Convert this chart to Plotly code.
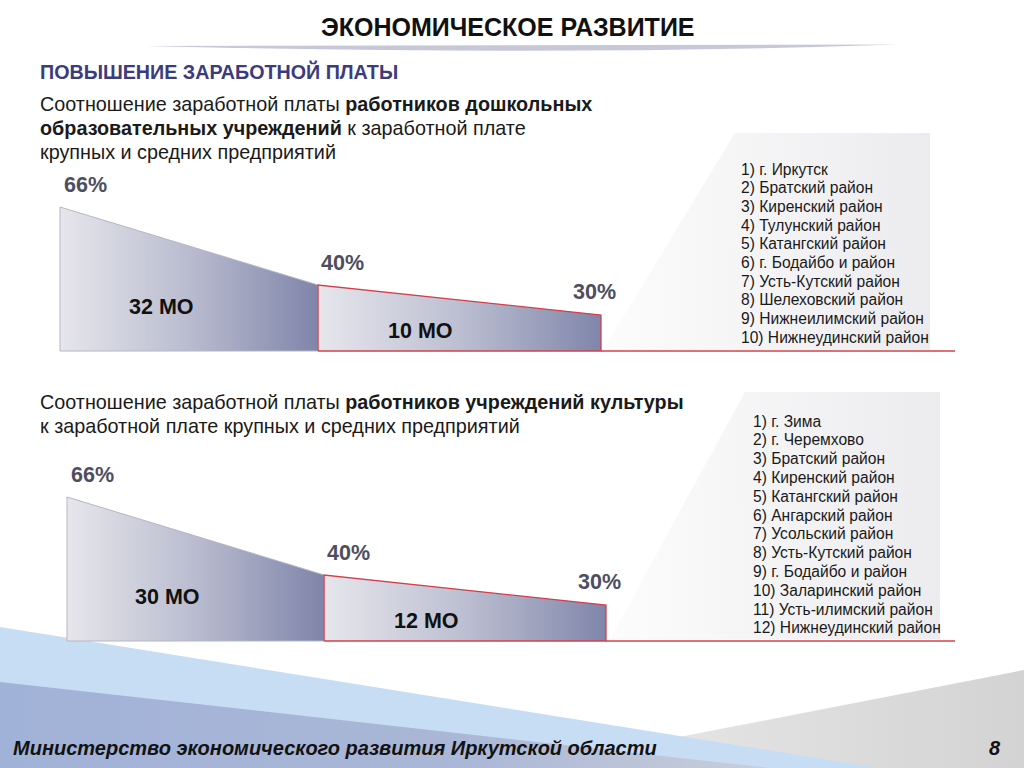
import plotly.graph_objects as go

# ---------------- data ----------------
TITLE = "ЭКОНОМИЧЕСКОЕ РАЗВИТИЕ"
SUBTITLE = "ПОВЫШЕНИЕ ЗАРАБОТНОЙ ПЛАТЫ"
TEXT_1 = ["Соотношение заработной платы <b>работников дошкольных</b>",
          "<b>образовательных учреждений</b> к заработной плате",
          "крупных и средних предприятий"]
TEXT_2 = ["Соотношение заработной платы <b>работников учреждений культуры</b>",
          "к заработной плате крупных и средних предприятий"]
LEVELS = [66, 40, 30]          # % thresholds
MO_1 = [32, 10]                # number of municipalities, preschool
MO_2 = [30, 12]                # number of municipalities, culture
LIST_1 = ["1) г. Иркутск", "2) Братский район", "3) Киренский район",
          "4) Тулунский район", "5) Катангский район", "6) г. Бодайбо и район",
          "7) Усть-Кутский район", "8) Шелеховский район",
          "9) Нижнеилимский район", "10) Нижнеудинский район"]
LIST_2 = ["1) г. Зима", "2) г. Черемхово", "3) Братский район",
          "4) Киренский район", "5) Катангский район", "6) Ангарский район",
          "7) Усольский район", "8) Усть-Кутский район", "9) г. Бодайбо и район",
          "10) Заларинский район", "11) Усть-илимский район",
          "12) Нижнеудинский район"]
FOOTER = "Министерство экономического развития Иркутской области"
PAGE = "8"

# ---------------- layout constants ----------------
W, H = 1024, 768
FONT = "Liberation Sans, Arial, sans-serif"
BASE = 18            # value at the panel baseline
STAGE_X = [0, 0.477, 1]
RED = "#d3404b"
PCT_COLOR = "#4e4e60"

fig = go.Figure()

# decor axis: pixel coordinates over the whole page
fig.update_layout(
    xaxis=dict(domain=[0, 1], range=[0, W], visible=False, fixedrange=True),
    yaxis=dict(domain=[0, 1], range=[H, 0], visible=False, fixedrange=True),
)


def poly(xs, ys, color=None, grad=None, line=None, lw=0):
    kw = {}
    if grad:
        kw["fillgradient"] = dict(type="horizontal", colorscale=grad)
    else:
        kw["fillcolor"] = color
    fig.add_trace(go.Scatter(x=xs, y=ys, mode="lines", fill="toself",
                             line=dict(color=line or "rgba(0,0,0,0)", width=lw),
                             hoverinfo="skip", showlegend=False,
                             xaxis="x", yaxis="y", **kw))


# footer background wedges
poly([1024, 520, 1024, 1024], [670, 768, 768, 670],
     grad=[[0, "#ececec"], [1, "#d3d3d3"]])
poly([0, 880, 0, 0], [627, 768, 768, 627], color="#c7ddf4")
poly([0, 770, 0, 0], [682, 768, 768, 682],
     grad=[[0, "#a1b2d8"], [0.6, "#aab7d6"], [1, "#c9ced9"]])

# list backgrounds
poly([603, 735, 930, 930, 603], [350, 133, 133, 350, 350],
     grad=[[0, "#fcfcfc"], [1, "#ececef"]])
poly([610, 745, 940, 940, 610], [639, 392, 392, 639, 639],
     grad=[[0, "#fcfcfc"], [1, "#ececef"]])

# title swoosh
fig.add_shape(type="path", xref="x", yref="y",
              path="M 145,46 L 897,44.5 Q 560,56 145,46 Z",
              fillcolor="#c6c8da", line=dict(width=0), layer="above")


def txt(x, y, s, size, color="#1a1a1a", bold=False, italic=False,
        xanchor="left"):
    fig.add_annotation(x=x, y=y, xref="x", yref="y", text=s, showarrow=False,
                       xanchor=xanchor, yanchor="middle",
                       font=dict(size=size, color=color, family=FONT,
                                 weight="bold" if bold else "normal",
                                 style="italic" if italic else "normal"))


txt(508, 27, TITLE, 25, color="#111111", bold=True, xanchor="center")
txt(38, 71, SUBTITLE, 19.7, color="#3b3b7e", bold=True)
for i, line in enumerate(TEXT_1):
    txt(38, 104 + 24 * i, line, 19.8)
for i, line in enumerate(TEXT_2):
    txt(38, 402 + 24 * i, line, 19.8)
for i, item in enumerate(LIST_1):
    txt(739, 169 + 18.67 * i, item, 15.6)
for i, item in enumerate(LIST_2):
    txt(751, 421 + 18.8 * i, item, 15.6)
txt(11, 748, FOOTER, 20, color="#121212", bold=True, italic=True)
txt(1003, 748, PAGE, 20, color="#121212", bold=True, italic=True,
    xanchor="right")

# ---------------- the two step panels ----------------
PANELS = [
    dict(ax="2", x0=60, x1=601, top=207, base=351, mo=MO_1,
         mo_pos=[(161, 307), (420, 331)],
         pct_shift=[(2, 8), (1, 8), (-7, 9)]),
    dict(ax="3", x0=67, x1=606, top=497, base=641, mo=MO_2,
         mo_pos=[(167, 597), (426, 621)],
         pct_shift=[(2, 8), (1, 8), (-7, 9)]),
]

for p in PANELS:
    a = p["ax"]
    # padding so that border lines are not clipped
    ppx = (p["x1"] - p["x0"]) * 0.01
    ppy = (p["base"] - p["top"]) / (LEVELS[0] - BASE)
    fig.layout["xaxis" + a] = dict(
        domain=[(p["x0"] - ppx) / W, (p["x1"] + ppx) / W],
        range=[-0.01, 1.01], visible=False, fixedrange=True,
        anchor="y" + a)
    fig.layout["yaxis" + a] = dict(
        domain=[1 - (p["base"] + ppy) / H, 1 - (p["top"] - ppy) / H],
        range=[BASE - 1, LEVELS[0] + 1], visible=False, fixedrange=True,
        anchor="x" + a)
    s0, s1, s2 = STAGE_X
    fig.add_trace(go.Scatter(
        x=[s0, s0, s1, s1, s0], y=[BASE, LEVELS[0], LEVELS[1], BASE, BASE],
        mode="lines", fill="toself",
        fillgradient=dict(type="horizontal",
                          colorscale=[[0, "#e6e6eb"], [0.5, "#b9bccf"],
                                      [1, "#7f85aa"]]),
        line=dict(color="#b4b6c4", width=1), hoverinfo="skip",
        showlegend=False, xaxis="x" + a, yaxis="y" + a))
    fig.add_trace(go.Scatter(
        x=[s1, s1, s2, s2, s1], y=[BASE, LEVELS[1], LEVELS[2], BASE, BASE],
        mode="lines", fill="toself",
        fillgradient=dict(type="horizontal",
                          colorscale=[[0, "#e6e6ec"], [0.5, "#bcbfd1"],
                                      [1, "#8086ab"]]),
        line=dict(color=RED, width=1.3), hoverinfo="skip",
        showlegend=False, xaxis="x" + a, yaxis="y" + a))
    # percentage labels at the stage points
    for sx, lv, (dx, dy) in zip(STAGE_X, LEVELS, p["pct_shift"]):
        fig.add_annotation(x=sx, y=lv, xref="x" + a, yref="y" + a,
                           text=f"{lv}%", showarrow=False,
                           xanchor="left" if sx < 1 else "center",
                           yanchor="bottom", xshift=dx, yshift=dy,
                           font=dict(size=21.5, color=PCT_COLOR, family=FONT,
                                     weight="bold"))
    # municipality counts
    for n, (mx, my) in zip(p["mo"], p["mo_pos"]):
        txt(mx, my, f"{n} МО", 21.5, color="#111111", bold=True,
            xanchor="center")
    # red baseline continuing under the list
    fig.add_shape(type="line", xref="x", yref="y",
                  x0=p["x1"], x1=955, y0=p["base"], y1=p["base"],
                  line=dict(color=RED, width=1.3), layer="above")

fig.update_layout(
    width=W, height=H, margin=dict(l=0, r=0, t=0, b=0),
    paper_bgcolor="white", plot_bgcolor="rgba(0,0,0,0)",
    showlegend=False,
)

fig.write_html("out.html", config={"displayModeBar": False},
               post_script="document.body.style.margin='0';")
